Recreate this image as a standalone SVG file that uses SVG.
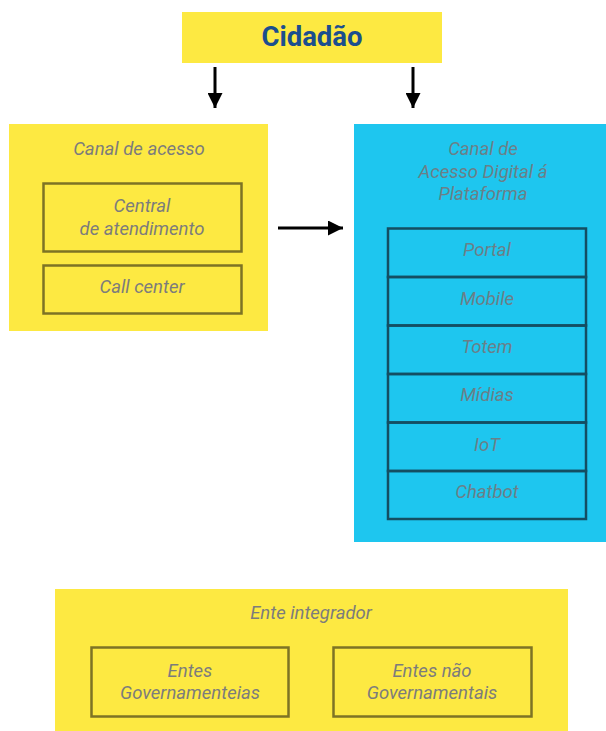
<svg xmlns="http://www.w3.org/2000/svg" width="606" height="731" viewBox="0 0 606 731">
  <defs>
    <style>
      .yellow { fill: #fde942; }
      .blue { fill: #1ec6ef; }
      .inner-y { fill: none; stroke: #7d7325; stroke-width: 2.5; }
      .inner-b { fill: none; stroke: #144e62; stroke-width: 2.5; }
      .lbl { font-family: Roboto, "Liberation Sans", sans-serif; font-style: italic; font-size: 18.5px; fill: #7c7c7c; text-anchor: middle; }
      .lbl-b { fill: #6b7f88; }
      .title { font-family: Roboto, "Liberation Sans", sans-serif; font-weight: bold; font-size: 27.5px; fill: #1b4e8e; text-anchor: middle; }
      .conn { stroke: #000; stroke-width: 3; fill: none; }
    </style>
    <marker id="head" viewBox="0 0 10 10" refX="10" refY="5" markerWidth="5" markerHeight="5" markerUnits="strokeWidth" orient="auto">
      <path d="M0,0 L10,5 L0,10 Z" fill="#000"/>
    </marker>
  </defs>

  <!-- Citizen -->
  <g id="cidadao">
    <rect class="yellow" x="182" y="12" width="260" height="51"/>
    <text class="title" x="312" y="46">Cidadão</text>
  </g>

  <!-- Access channel -->
  <g id="canal-acesso">
    <rect class="yellow" x="9" y="124" width="259" height="207"/>
    <text class="lbl" x="139" y="155">Canal de acesso</text>
    <rect class="inner-y" x="43.5" y="183.5" width="198" height="68"/>
    <text class="lbl" x="142" y="212">Central</text>
    <text class="lbl" x="142" y="235">de atendimento</text>
    <rect class="inner-y" x="43.5" y="265.5" width="198" height="48"/>
    <text class="lbl" x="142" y="293">Call center</text>
  </g>

  <!-- Digital access channel -->
  <g id="canal-digital">
    <rect class="blue" x="354" y="124" width="252" height="418"/>
    <text class="lbl lbl-b" x="483" y="155">Canal de</text>
    <text class="lbl lbl-b" x="483" y="178">Acesso Digital á</text>
    <text class="lbl lbl-b" x="483" y="200">Plataforma</text>
    <rect class="inner-b" x="388" y="228.5" width="198" height="48.5"/>
    <text class="lbl lbl-b" x="487" y="256">Portal</text>
    <rect class="inner-b" x="388" y="277" width="198" height="48.5"/>
    <text class="lbl lbl-b" x="487" y="305">Mobile</text>
    <rect class="inner-b" x="388" y="325.5" width="198" height="48.5"/>
    <text class="lbl lbl-b" x="487" y="353">Totem</text>
    <rect class="inner-b" x="388" y="374" width="198" height="48.5"/>
    <text class="lbl lbl-b" x="487" y="401">Mídias</text>
    <rect class="inner-b" x="388" y="422.5" width="198" height="48.5"/>
    <text class="lbl lbl-b" x="487" y="451">IoT</text>
    <rect class="inner-b" x="388" y="471" width="198" height="48"/>
    <text class="lbl lbl-b" x="487" y="498">Chatbot</text>
  </g>

  <!-- Integrating entity -->
  <g id="ente-integrador">
    <rect class="yellow" x="55" y="589" width="513" height="142"/>
    <text class="lbl" x="311" y="619">Ente integrador</text>
    <rect class="inner-y" x="91.5" y="647.5" width="197" height="69"/>
    <text class="lbl" x="190" y="677">Entes</text>
    <text class="lbl" x="190" y="699">Governamenteias</text>
    <rect class="inner-y" x="333.5" y="647.5" width="198" height="69"/>
    <text class="lbl" x="432" y="677">Entes não</text>
    <text class="lbl" x="432" y="699">Governamentais</text>
  </g>

  <!-- Connectors -->
  <g id="connectors">
    <line class="conn" x1="215" y1="67" x2="215" y2="108" marker-end="url(#head)"/>
    <line class="conn" x1="413" y1="67" x2="413" y2="108" marker-end="url(#head)"/>
    <line class="conn" x1="278" y1="228" x2="343" y2="228" marker-end="url(#head)"/>
  </g>
</svg>
